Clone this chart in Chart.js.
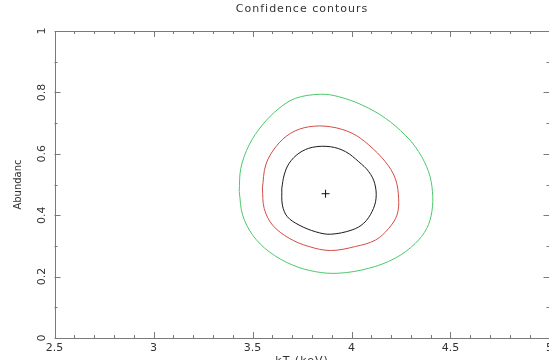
<!DOCTYPE html>
<html>
<head>
<meta charset="utf-8">
<script src="https://cdn.jsdelivr.net/npm/chart.js@4/dist/chart.umd.min.js"></script>
<style>
  html, body { margin: 0; padding: 0; background: #fff; overflow: hidden; }
  #wrap { position: absolute; left: 0; top: 0; width: 560px; height: 372px; }
</style>
</head>
<body>
<div id="wrap"><canvas id="chart"></canvas></div>
<script>
// Contour points: [kT, abundance]
// Each loop starts and ends at its leftmost point so the join stays smooth.
const greenContour = [
  [3.433, 0.477], [3.441, 0.553], [3.483, 0.629], [3.550, 0.694], [3.634, 0.748],
  [3.718, 0.781], [3.844, 0.794], [3.936, 0.786], [4.053, 0.759], [4.171, 0.716],
  [4.271, 0.661], [4.339, 0.607], [4.389, 0.542], [4.409, 0.477], [4.406, 0.412],
  [4.380, 0.357], [4.322, 0.308], [4.221, 0.260], [4.087, 0.227], [3.936, 0.211],
  [3.819, 0.216], [3.701, 0.238], [3.584, 0.281], [3.500, 0.336], [3.450, 0.401],
  [3.433, 0.477],
];
const redContour = [
  [3.550, 0.488], [3.567, 0.564], [3.618, 0.623], [3.693, 0.667], [3.785, 0.688],
  [3.894, 0.688], [4.003, 0.667], [4.087, 0.629], [4.171, 0.574], [4.221, 0.520],
  [4.238, 0.455], [4.230, 0.401], [4.188, 0.357], [4.121, 0.319], [4.020, 0.298],
  [3.894, 0.285], [3.785, 0.298], [3.685, 0.325], [3.601, 0.368], [3.559, 0.422],
  [3.550, 0.488],
];
const blackContour = [
  [3.648, 0.488], [3.660, 0.531], [3.685, 0.569], [3.735, 0.602], [3.802, 0.621],
  [3.894, 0.623], [3.970, 0.607], [4.037, 0.574], [4.087, 0.542], [4.117, 0.504],
  [4.124, 0.455], [4.104, 0.412], [4.062, 0.374], [4.003, 0.352], [3.894, 0.338],
  [3.819, 0.346], [3.735, 0.368], [3.676, 0.395], [3.651, 0.433], [3.648, 0.488],
];
const bestFit = [[3.869, 0.470]];

const xMajorTicks = [2.5, 3, 3.5, 4, 4.5, 5];
const xTickLabels = ['2.5', '3', '3.5', '4', '4.5', '5'];
const yMajorTicks = [0, 0.2, 0.4, 0.6, 0.8, 1];
const yTickLabels = ['0', '0.2', '0.4', '0.6', '0.8', '1'];
const xMinorStep = 0.1;
const yMinorStep = 0.1;

const titleText  = 'Confidence contours';
const xTitleText = 'kT (keV)';
const yTitleText = 'Abundanc';

const AXIS_COLOR = '#7a7a7a';
const TEXT_COLOR = '#333333';
const FONT = "'DejaVu Sans', sans-serif";

const toXY = pts => pts.map(([x, y]) => ({ x, y }));

// PGPLOT-style frame: box with inward ticks on all four sides
const framePlugin = {
  id: 'frame',
  afterDraw(chart) {
    const { ctx, chartArea: { left, right, top, bottom } } = chart;
    const xs = chart.scales.x;
    const ys = chart.scales.y;
    ctx.save();
    ctx.strokeStyle = AXIS_COLOR;
    ctx.lineWidth = 1;
    ctx.strokeRect(Math.round(left) + 0.5, Math.round(top) + 0.5,
                   Math.round(right - left), Math.round(bottom - top));

    ctx.beginPath();
    for (let v = xs.min; v <= xs.max + 1e-9; v += xMinorStep) {
      const major = xMajorTicks.some(t => Math.abs(t - v) < 1e-6);
      const len = major ? 6 : 3;
      const px = Math.round(xs.getPixelForValue(v)) + 0.5;
      ctx.moveTo(px, bottom); ctx.lineTo(px, bottom - len);
      ctx.moveTo(px, top);    ctx.lineTo(px, top + len);
    }
    for (let v = ys.min; v <= ys.max + 1e-9; v += yMinorStep) {
      const major = yMajorTicks.some(t => Math.abs(t - v) < 1e-6);
      const len = major ? 6 : 3;
      const py = Math.round(ys.getPixelForValue(v)) + 0.5;
      ctx.moveTo(left, py);  ctx.lineTo(left + len, py);
      ctx.moveTo(right, py); ctx.lineTo(right - len, py);
    }
    ctx.stroke();

    ctx.fillStyle = TEXT_COLOR;
    ctx.font = `11px ${FONT}`;
    ctx.textAlign = 'center';
    ctx.textBaseline = 'middle';
    xMajorTicks.forEach((v, i) => {
      ctx.fillText(xTickLabels[i], xs.getPixelForValue(v), bottom + 10);
    });
    yMajorTicks.forEach((v, i) => {
      ctx.save();
      ctx.translate(left - 12, ys.getPixelForValue(v));
      ctx.rotate(-Math.PI / 2);
      ctx.fillText(yTickLabels[i], 0, 0);
      ctx.restore();
    });

    const cx = (left + right) / 2;
    ctx.font = `11px ${FONT}`;
    ctx.letterSpacing = '1px';
    ctx.fillText(titleText, cx, 9);
    ctx.fillText(xTitleText, cx, bottom + 23);

    ctx.letterSpacing = '0px';
    ctx.font = `10px ${FONT}`;
    ctx.save();
    ctx.translate(18, (top + bottom) / 2);
    ctx.rotate(-Math.PI / 2);
    ctx.fillText(yTitleText, 0, 0);
    ctx.restore();
    ctx.restore();
  },
};

const contour = (pts, color) => ({
  data: toXY(pts),
  showLine: true,
  borderColor: color,
  borderWidth: 1,
  pointRadius: 0,
  tension: 0.35,
  fill: false,
});

new Chart(document.getElementById('chart'), {
  type: 'scatter',
  data: {
    datasets: [
      contour(greenContour, '#4cc86a'),
      contour(redContour, '#d44c44'),
      contour(blackContour, '#1a1a1a'),
      {
        data: toXY(bestFit),
        pointStyle: 'cross',
        pointRadius: 4,
        borderColor: '#111',
        borderWidth: 1,
        backgroundColor: '#111',
      },
    ],
  },
  plugins: [framePlugin],
  options: {
    responsive: true,
    maintainAspectRatio: false,
    animation: false,
    layout: { padding: { left: 54.5, top: 31, right: 10.5, bottom: 34 } },
    plugins: { legend: { display: false }, tooltip: { enabled: false } },
    scales: {
      x: { type: 'linear', min: 2.5, max: 5, display: false },
      y: { type: 'linear', min: 0, max: 1, display: false },
    },
  },
});
</script>
</body>
</html>
